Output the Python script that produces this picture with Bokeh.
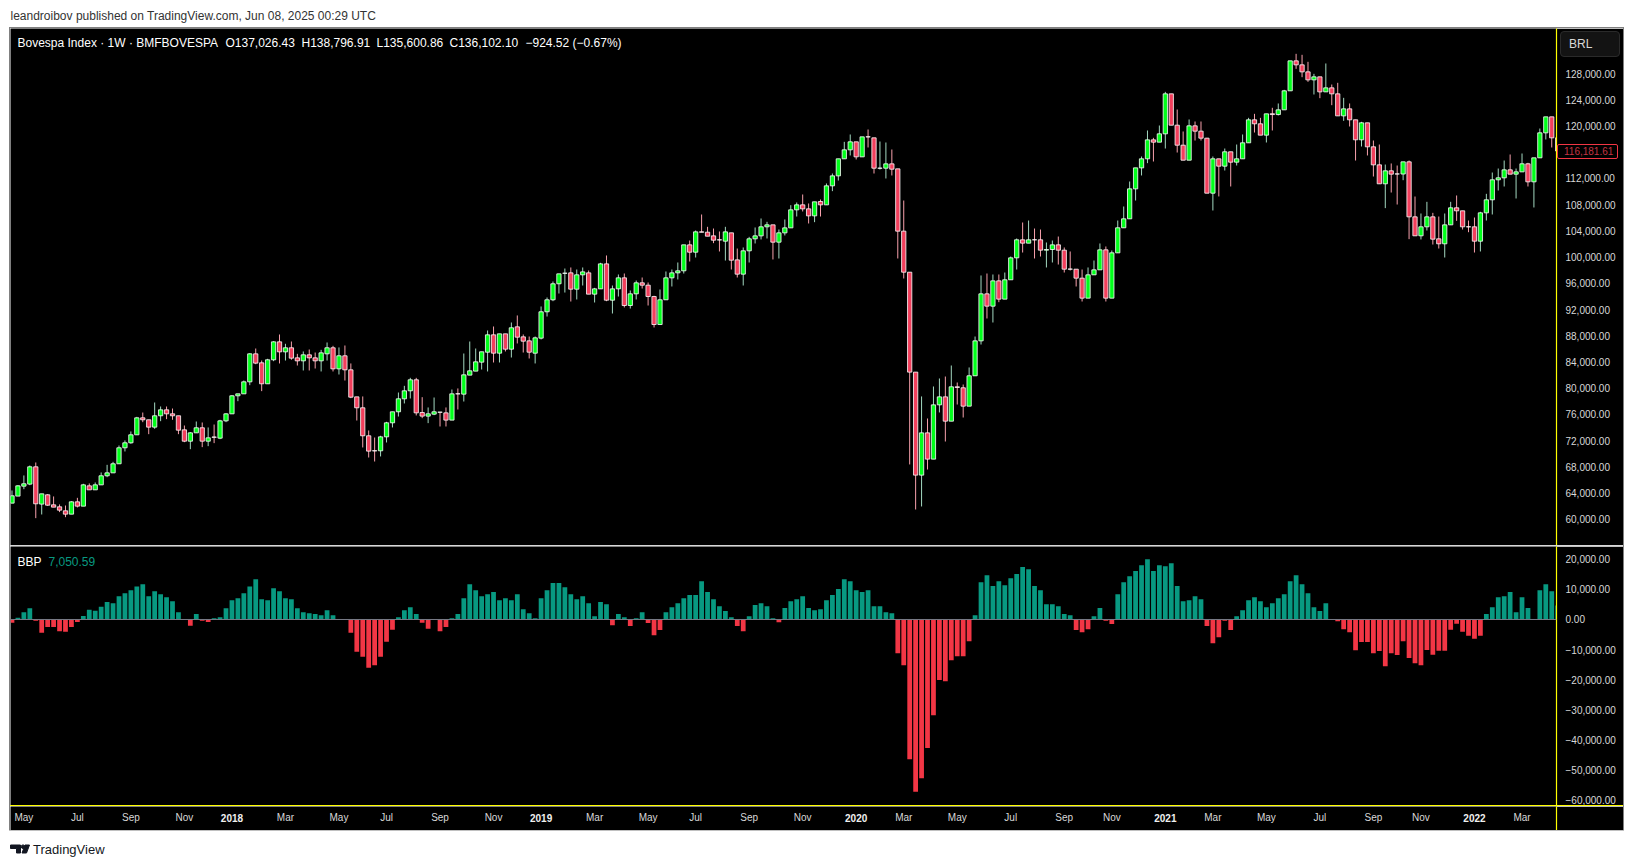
from bokeh.core.properties import value
from bokeh.embed import file_html
from bokeh.layouts import column
from bokeh.models import (ColumnDataSource, Div, FixedTicker, Label, LinearAxis, NumeralTickFormatter,
                          Range1d, Spacer, Span)
from bokeh.plotting import figure
from bokeh.resources import INLINE

# weekly candles
open_ = [62480, 63550, 65070, 65380, 68020, 62330, 63750, 62220, 61920, 61310,
         60800, 62680, 62020, 65120, 64510, 65270, 66650, 67100, 68480, 70920,
         71680, 72900, 75490, 75190, 74070, 75800, 76710, 76100, 75800, 73660,
         71930, 73200, 73970, 71930, 72570, 72390, 75030, 76100, 78850, 79150,
         80980, 85250, 83880, 80680, 84340, 87080, 85550, 86170, 84640, 84180,
         85100, 84640, 84180, 85250, 86170, 82960, 84950, 82810, 78690, 77020,
         72750, 70480, 70460, 72590, 74730, 76410, 78390, 79610, 81290, 76300,
         75750, 76050, 76360, 76250, 75140, 79160, 79100, 82000, 82610, 83980,
         85500, 88150, 85350, 88300, 85960, 89370, 87840, 87230, 85350, 87640,
         91660, 93490, 95930, 97530, 97600, 95110, 97300, 97600, 94350, 95160,
         98970, 93430, 95160, 96840, 92620, 94400, 96080, 95720, 93990, 89720,
         93490, 96840, 97600, 97910, 101870, 100750, 103850, 103800, 103240, 102640,
         102430, 103700, 99580, 97400, 100960, 102790, 103240, 104620, 104920, 102280,
         103700, 104460, 107210, 107970, 107360, 106290, 108480, 107970, 110870, 112390,
         114990, 116360, 117580, 115290, 118350, 118190, 113550, 113560, 114220, 113460,
         103960, 97700, 82460, 66750, 73200, 69190, 77470, 78690, 74980, 80220,
         80070, 77270, 81900, 87230, 94400, 92520, 96380, 93590, 96540, 99890,
         102640, 102130, 102650, 102640, 101060, 101160, 101870, 101060, 98180, 98160,
         96790, 93740, 97300, 98060, 101110, 93740, 100650, 104470, 105840, 110410,
         113610, 114990, 117880, 117530, 118800, 124900, 120120, 117070, 114780, 120020,
         119210, 118140, 109750, 114990, 113870, 116060, 114480, 114990, 117430, 120940,
         120330, 118600, 121860, 121740, 122460, 125360, 129930, 129320, 128250, 127030,
         127490, 125200, 125810, 124900, 121540, 122610, 120940, 117890, 120480, 116820,
         114070, 111180, 113160, 112690, 112670, 114530, 106140, 103250, 104620, 106140,
         102790, 102030, 104920, 107520, 107060, 104630, 104620, 102430, 106750, 108740,
         111790, 112090, 113310, 112650, 113000, 114230, 111480, 115140, 118950, 121390,
         118190]
high = [64410, 65220, 66700, 68220, 68680, 63900, 63850, 63500, 62280, 62120,
        62780, 63290, 65430, 65480, 65630, 67160, 68320, 68780, 71270, 72040,
        73410, 75640, 76300, 75190, 77830, 77220, 77220, 76910, 75800, 74320,
        73310, 74930, 74780, 74020, 74470, 75190, 76200, 78950, 79150, 81180,
        85350, 86060, 84230, 84490, 87180, 88200, 86780, 87130, 85250, 85610,
        85910, 85450, 85860, 86980, 86470, 86220, 86520, 83780, 78690, 78750,
        73560, 72490, 72750, 74880, 76410, 79350, 80370, 81590, 81590, 78640,
        77070, 78590, 76360, 77070, 79810, 79970, 85300, 87130, 86060, 85560,
        88810, 89420, 88300, 88300, 90030, 91100, 88200, 87890, 87890, 92470,
        93840, 96280, 97450, 98260, 98420, 98110, 98420, 97960, 95310, 99130,
        100250, 95670, 97350, 97500, 94910, 96430, 96890, 96130, 94100, 95060,
        97810, 98110, 99180, 101870, 102530, 104060, 106500, 104620, 104360, 103910,
        104620, 103700, 101310, 101470, 103090, 104520, 105890, 105380, 104920, 104210,
        105740, 107920, 108330, 109550, 108180, 108430, 108790, 111230, 112750, 114990,
        117580, 118700, 117580, 118340, 119460, 118190, 117630, 117480, 116410, 113460,
        108630, 97700, 82460, 78750, 75390, 80270, 81490, 81790, 83470, 80880,
        80570, 83170, 87890, 97200, 97500, 97350, 97350, 97650, 100090, 102840,
        105280, 105580, 104360, 104210, 102230, 102530, 103140, 101470, 100860, 98160,
        98110, 98420, 99480, 102080, 101620, 101010, 105580, 107720, 111530, 113610,
        115340, 119310, 118190, 120070, 125200, 124900, 122510, 119160, 120990, 120680,
        120680, 118190, 115340, 114990, 116560, 116060, 117170, 118700, 121240, 121850,
        121240, 121850, 122770, 123430, 125510, 129930, 131000, 130850, 129780, 127950,
        127490, 129530, 126320, 126580, 124290, 123430, 120940, 120630, 120480, 117780,
        117170, 114120, 114280, 113970, 114530, 114730, 109240, 106650, 108430, 106750,
        106190, 106650, 108430, 109400, 107060, 105580, 106040, 106910, 109650, 112900,
        113510, 114730, 115650, 113510, 115800, 114380, 115140, 119610, 121390, 121390,
        118190]
low = [62480, 63550, 64610, 65220, 60190, 60750, 62070, 61870, 61110, 60340,
       60800, 61820, 62020, 64510, 64510, 65270, 66440, 67100, 68480, 70360,
       71530, 72900, 74830, 73000, 73810, 74980, 75290, 75190, 73000, 71780,
       70710, 73200, 71020, 71170, 71630, 72240, 74830, 76100, 78030, 79150,
       80470, 83670, 79560, 80680, 84130, 83780, 84230, 84340, 83470, 82710,
       82710, 83010, 82560, 84230, 82560, 82100, 81180, 78490, 75080, 70970,
       69440, 68830, 69600, 71730, 74020, 75690, 77680, 78440, 75850, 75440,
       74680, 75900, 74170, 74170, 75140, 76760, 77980, 82000, 82610, 82860,
       82560, 83930, 83930, 85610, 84690, 86830, 85450, 84540, 83780, 87440,
       90940, 93280, 94450, 94600, 93230, 93540, 95670, 94350, 93080, 95160,
       93280, 91400, 93990, 92320, 92160, 93540, 95210, 92620, 89270, 89720,
       93490, 95520, 96590, 97500, 99330, 99940, 103800, 103190, 102130, 100860,
       99480, 98110, 96890, 95670, 99180, 102080, 102690, 102840, 99640, 99790,
       103300, 104460, 106190, 106960, 105130, 105330, 106190, 107970, 110060, 111680,
       114990, 115500, 114890, 115290, 116720, 112750, 113360, 111990, 112450, 99790,
       96740, 68380, 61510, 61970, 67610, 69190, 76310, 71880, 74980, 77520,
       75540, 77270, 81900, 86670, 90640, 90030, 93130, 93590, 96540, 98110,
       100700, 102130, 99790, 100090, 98420, 99180, 98870, 97650, 97960, 95520,
       93230, 93740, 97300, 98060, 93230, 93740, 100650, 104470, 105840, 108630,
       112450, 114330, 114580, 117530, 116560, 120120, 115950, 114780, 114780, 117780,
       117780, 109750, 107110, 109250, 113210, 110770, 113970, 114990, 117430, 119000,
       118600, 117480, 119310, 121600, 122460, 125360, 128710, 127440, 126730, 124800,
       124240, 125200, 123170, 121540, 120780, 119920, 114730, 116870, 115500, 112290,
       111180, 107470, 109850, 108020, 111730, 102740, 103250, 102690, 104060, 101920,
       101310, 99940, 104920, 105530, 104210, 103800, 100700, 100860, 105580, 106500,
       110160, 110770, 112650, 108940, 113000, 110770, 107570, 115140, 117940, 116720,
       116000]
close = [63600, 65120, 65430, 68020, 62380, 63900, 62170, 61870, 61410, 60800,
         62680, 62020, 65270, 64510, 65270, 66650, 67100, 68480, 70920, 71680,
         72900, 75490, 75190, 74070, 75800, 76710, 76100, 75800, 73610, 71930,
         73200, 73970, 71930, 72440, 72520, 75030, 76100, 78850, 79150, 80980,
         85250, 83830, 80680, 84340, 87080, 85550, 86170, 84590, 84180, 85100,
         84640, 84180, 85400, 86170, 82960, 84950, 82810, 78640, 77020, 72750,
         70410, 70440, 72590, 74730, 76410, 78390, 79610, 81290, 76250, 75750,
         76100, 76410, 76340, 75140, 79150, 79140, 82050, 82660, 84030, 85560,
         88150, 85350, 88300, 85960, 89220, 87790, 87180, 85500, 87690, 91660,
         93490, 95930, 97450, 97550, 95110, 97300, 97750, 94350, 95160, 98970,
         93430, 95160, 96840, 92620, 94400, 96080, 95720, 93990, 89720, 93490,
         96840, 97600, 97910, 101870, 100750, 103850, 103800, 103190, 102580, 102620,
         103850, 99530, 97400, 100960, 102790, 103240, 104620, 104920, 102280, 103700,
         104460, 107210, 107970, 107360, 106290, 108430, 107970, 110870, 112390, 114990,
         116360, 117580, 115290, 118340, 118330, 113560, 113570, 114220, 113410, 103960,
         97700, 82460, 66750, 73200, 69190, 77470, 78690, 74980, 80220, 80120,
         77270, 81900, 87230, 94400, 92520, 96380, 93590, 96540, 99890, 102640,
         102130, 102640, 102630, 101060, 101160, 101870, 101060, 98160, 98160, 96790,
         93740, 97300, 98060, 101110, 93740, 100650, 104470, 105840, 110410, 113610,
         114990, 117880, 117530, 118800, 124900, 120120, 117070, 114780, 120020, 119210,
         118140, 109750, 114990, 113870, 116060, 114480, 114990, 117430, 120940, 120330,
         118600, 121850, 121740, 122460, 125360, 129930, 129320, 128250, 127030, 127490,
         125200, 125810, 124900, 121540, 122610, 120940, 117890, 120480, 116820, 114070,
         111180, 113160, 112650, 112670, 114530, 106140, 103250, 104620, 106140, 102740,
         102030, 104920, 107520, 107060, 104620, 104610, 102430, 106750, 108740, 111790,
         112090, 113310, 112650, 113000, 114230, 111480, 115140, 118950, 121390, 118190,
         116181.61]

# Bull Bear Power histogram
bbp = [-1100, 550, 2400, 3760, -440, -4400, -2500, -2500, -3900, -4100,
       -2500, -800, 1200, 3200, 2900, 4200, 5800, 5400, 7700, 8700,
       9700, 11000, 11700, 7700, 9400, 8400, 7400, 6100, 2400, 100,
       -2100, 1800, -440, -800, 440, 770, 3760, 6400, 7100, 8700,
       11000, 13400, 6750, 6400, 10400, 9400, 7100, 6750, 3760, 2400,
       2100, 1800, 1400, 3100, 1400, 100, 100, -4400, -10700, -12400,
       -16000, -15200, -12400, -7400, -3400, 770, 3100, 4100, 1800, -1100,
       -3100, 100, -3900, -2500, 440, 1800, 7100, 11700, 9700, 7700,
       8400, 9100, 6400, 7100, 6400, 8400, 3400, 2100, 440, 7100,
       9700, 12100, 12100, 10700, 8400, 6750, 7700, 5400, 1100, 5800,
       5100, -1900, 1800, 770, -2200, 440, 2400, -1200, -5200, -3500,
       2400, 4100, 5400, 7100, 8100, 8100, 12700, 9100, 6750, 4400,
       2800, 770, -2200, -3900, 1100, 4800, 5400, 4400, 440, -900,
       3800, 6100, 6750, 7700, 3800, 3100, 3400, 6400, 8100, 10100,
       13400, 12700, 9700, 9100, 9700, 4400, 4400, 2400, 2100, -11200,
       -15200, -46400, -57200, -52700, -42700, -31800, -20100, -20500, -13500, -12200,
       -12200, -7200, 1400, 12400, 14700, 11100, 12700, 11400, 13700, 15100,
       17400, 16700, 11100, 9700, 5100, 5100, 4400, 1800, 1400, -3500,
       -4200, -3200, 1100, 3800, -440, -1500, 8400, 12400, 14400, 16100,
       18000, 20000, 16100, 18000, 17700, 18700, 11100, 6100, 6400, 7700,
       6750, -2200, -7900, -5900, -440, -3500, 1100, 3100, 6400, 7400,
       6100, 4100, 5400, 7100, 8400, 12700, 14700, 11700, 8700, 4100,
       2800, 5400, 100, -550, -3200, -4200, -10200, -7500, -7500, -11200,
       -10500, -15500, -11200, -11800, -7200, -12800, -14500, -15200, -10100, -11700,
       -10400, -10400, -3400, -1400, -4100, -5400, -6400, -5400, 1800, 4100,
       7400, 7700, 9100, 2400, 7400, 3800, 100, 9700, 11700, 9400,
       4650]

# 116,000 sits behind the last-price tag
price_ticks = [t for t in range(60000, 132000, 4000) if t != 116000]
bbp_ticks = [20000, 10000, 0, -10000, -20000, -30000, -40000, -50000, -60000]
month_bars = [2, 11, 20, 29, 46, 55, 63, 72, 81, 98, 107, 115, 124, 133, 150, 159, 168, 177,
              185, 202, 211, 220, 229, 237, 254]
month_labels = ["May", "Jul", "Sep", "Nov", "Mar", "May", "Jul", "Sep", "Nov", "Mar", "May", "Jul",
                "Sep", "Nov", "Mar", "May", "Jul", "Sep", "Nov", "Mar", "May", "Jul", "Sep", "Nov", "Mar"]
year_bars = [37, 89, 142, 194, 246]
year_labels = ["2018", "2019", "2020", "2021", "2022"]

FONT = "Liberation Sans"
BG = "#000000"
AXIS_TEXT = "#d8d8d8"
YELLOW = "#ffff00"

x = list(range(len(close)))
up = [c >= o for o, c in zip(open_, close)]
candles = ColumnDataSource(dict(
    x=x, high=high, low=low,
    top=[max(o, c) for o, c in zip(open_, close)],
    bottom=[min(o, c) for o, c in zip(open_, close)],
    body=["#00ff1a" if u else "#f23f5c" for u in up],
    wick=["#a3d8c0" if u else "#f7a0ac" for u in up],
))
bars = ColumnDataSource(dict(x=x, bbp=bbp, color=["#089981" if v >= 0 else "#f23645" for v in bbp]))

x_range = Range1d(-0.25, 259.8)


def pane(height, y_range):
    fig = figure(width=1613, height=height, x_range=x_range, y_range=y_range,
                 output_backend="svg", toolbar_location=None, tools="",
                 background_fill_color=BG, border_fill_color=BG,
                 min_border_left=0, min_border_right=67, min_border_top=0, min_border_bottom=0,
                 x_axis_location=None, y_axis_location=None)
    fig.grid.visible = False
    fig.outline_line_color = None
    return fig


def right_axis(fig, ticks, overrides=None):
    axis = LinearAxis(ticker=FixedTicker(ticks=ticks), axis_line_color=YELLOW, axis_line_width=1.2,
                      major_tick_line_color=None, minor_tick_line_color=None,
                      major_label_standoff=3, major_label_text_color=AXIS_TEXT,
                      major_label_text_font=FONT, major_label_text_font_size="10px",
                      formatter=NumeralTickFormatter(format="0,0.00"))
    if overrides:
        axis.major_label_overrides = overrides
    fig.add_layout(axis, "right")


def legend(fig, text, left, top, color="#ffffff"):
    fig.add_layout(Label(x=left, y=top, x_units="screen", y_units="screen", text=text,
                         text_color=color, text_font=FONT, text_font_size="12px",
                         text_baseline="middle"))


# price pane
p = pane(517, Range1d(56020, 134863))
right_axis(p, price_ticks)
p.segment("x", "high", "x", "low", source=candles, line_color="wick", line_width=1)
p.vbar("x", 0.72, "top", "bottom", source=candles, fill_color="body", line_color="#ffffff", line_width=0.8)

legend(p, "Bovespa Index \u00b7 1W \u00b7 BMFBOVESPA", 7, 503)
legend(p, "O137,026.43", 215, 503)
legend(p, "H138,796.91", 291, 503)
legend(p, "L135,600.86", 366, 503)
legend(p, "C136,102.10", 439, 503)
legend(p, "\u2212924.52 (\u22120.67%)", 515, 503)

# BBP pane
h = pane(259, Range1d(-61794, 24252))
right_axis(h, bbp_ticks, {t: f"{t:,.2f}".replace("-", "\u2212") for t in bbp_ticks})
h.vbar("x", 0.8, "bbp", 0, source=bars, fill_color="color", line_color=None)
h.add_layout(Span(location=0, dimension="width", line_color="#787b86", line_width=1))
legend(h, "BBP", 7, 244)
legend(h, "7,050.59", 38, 244, color="#089981")

# time scale
t = pane(24, Range1d(0, 1))
right_axis(t, [])
t.text(month_bars, [0.54] * len(month_bars), text=month_labels, text_color=AXIS_TEXT,
       text_font=value(FONT), text_font_size="10px", text_align="center", text_baseline="middle")
t.text(year_bars, [0.54] * len(year_bars), text=year_labels, text_color="#f0f0f0",
       text_font=value(FONT), text_font_size="10px", text_font_style="bold",
       text_align="center", text_baseline="middle")


def strip(height, y_top):
    fig = figure(width=1618, height=height, x_range=Range1d(8, 1626), y_range=Range1d(y_top + height, y_top),
                 output_backend="svg", toolbar_location=None, tools="",
                 min_border_left=0, min_border_right=0, min_border_top=0, min_border_bottom=0,
                 x_axis_location=None, y_axis_location=None)
    fig.grid.visible = False
    fig.outline_line_color = None
    return fig


header = strip(20, 8)
header.text([10], [15], text=["leandroibov published on TradingView.com, Jun 08, 2025 00:29 UTC"],
            text_color="#333333", text_font=value(FONT), text_font_size="12px", text_baseline="middle")

footer = strip(28, 830)
footer.patches([[10, 20, 20, 16, 16, 10], [24.5, 29, 26, 21.5]],
               [[844.5, 844.5, 852.5, 852.5, 848, 848], [844.5, 844.5, 852.5, 852.5]], color="#131722")
footer.scatter([22.5], [846.2], size=3.6, color="#131722")
footer.text([32.5], [849], text=["TradingView"], text_color="#131722", text_font=value(FONT),
            text_font_size="13px", text_baseline="middle")


def tag(text, left, top, width, height, pad, size, color, fill, border, radius):
    # labels outside a frame get clipped, so the scale tags are divs laid over the axis panel
    return Div(text=text, width=width, height=height, margin=0,
               styles={"position": "absolute", "left": f"{left}px", "top": f"{top}px",
                       "box-sizing": "border-box", "padding-left": f"{pad}px",
                       "background-color": fill, "border": f"1px solid {border}",
                       "border-radius": radius, "color": color, "font-family": FONT,
                       "font-size": size, "line-height": f"{height - 2}px", "white-space": "nowrap"})


brl_tag = tag("BRL", 1550, 3, 60, 26, 8, "12px", AXIS_TEXT, "#131313", "#2a2a2a", "4px")
last_tag = tag("116,181.61", 1547, 116, 61, 15, 6, "10px", "#c23442", BG, "#f23645", "2px")

chart = column(p, Spacer(width=1613, height=1, styles={"background-color": "#d8d8d8"}),
               h, Spacer(width=1613, height=1, styles={"background-color": YELLOW}), t,
               brl_tag, last_tag,
               spacing=0, margin=(0, 0, 0, 2),
               styles={"outline": "1px solid #808080", "position": "relative"})
page = column(header, chart, footer, spacing=0, margin=(8, 0, 0, 8))

open("out.html", "w").write(file_html(page, INLINE))
